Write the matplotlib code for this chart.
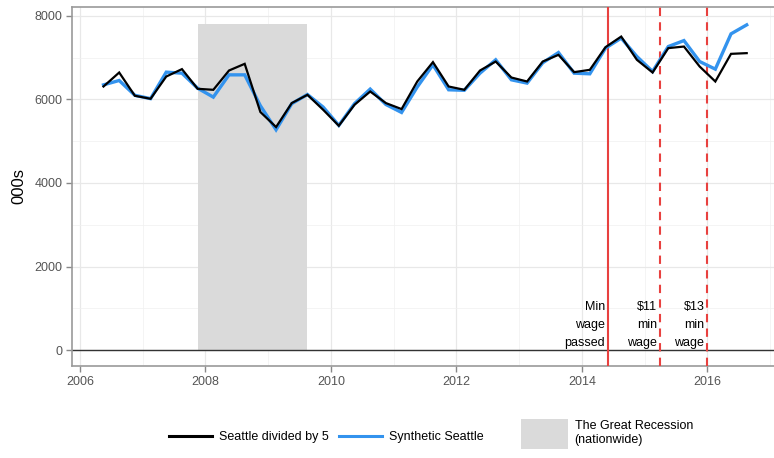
import matplotlib
matplotlib.use("Agg")
import matplotlib.pyplot as plt
from matplotlib.lines import Line2D
from matplotlib.patches import Patch
import numpy as np

plt.rcParams['font.family'] = ['Liberation Sans', 'DejaVu Sans']

# Quarterly observations, 2006 Q2 .. 2016 Q3 (thousands of jobs)
start_year = 2006.375
seattle_div5 = [6311, 6646, 6089, 6017, 6550, 6727, 6256, 6232, 6694, 6854,
                5700, 5340, 5914, 6112, 5754, 5371, 5873, 6191, 5914, 5770,
                6431, 6895, 6311, 6232, 6694, 6909, 6526, 6431, 6909, 7069,
                6655, 6710, 7253, 7507, 6950, 6646, 7230, 7268, 6790, 6431,
                7093, 7110]
synthetic = [6350, 6455, 6100, 6020, 6655, 6630, 6270, 6057, 6590, 6590,
             5850, 5275, 5900, 6120, 5818, 5380, 5900, 6249, 5880, 5689,
             6300, 6830, 6232, 6220, 6630, 6950, 6471, 6392, 6880, 7124,
             6630, 6615, 7230, 7470, 7029, 6670, 7268, 7411, 6909, 6727,
             7572, 7787]
dates = start_year + 0.25 * np.arange(len(seattle_div5))

recession = (2007.875, 2009.625)
recession_top = 7810
policy_dates = [2014.42, 2015.25, 2016.0]
policy_styles = ['-', '--', '--']
policy_labels = ['Min\nwage\npassed', '$11\nmin\nwage', '$13\nmin\nwage']

W, H = 774, 458
fig = plt.figure(figsize=(W / 100, H / 100), dpi=100)
ax = fig.add_axes([72 / W, 1 - 366 / H, (W - 72) / W, (366 - 7) / H])

ax.set_xlim(2005.873, 2017.06)
ax.set_ylim(-383, 8215)

# grid
ax.set_xticks([2006, 2008, 2010, 2012, 2014, 2016])
ax.set_xticks([2007, 2009, 2011, 2013, 2015, 2017], minor=True)
ax.set_yticks([0, 2000, 4000, 6000, 8000])
ax.set_yticks([1000, 3000, 5000, 7000], minor=True)
ax.grid(which='major', color='#E8E8E8', linewidth=0.9, zorder=0)
ax.grid(which='minor', color='#F0F0F0', linewidth=0.5, zorder=0)
ax.set_axisbelow(True)

# recession shading
ax.fill_between(recession, [0, 0], [recession_top, recession_top],
                color='#DADADA', linewidth=0, zorder=1)

# zero line
ax.axhline(0, color='#333333', linewidth=1.0, zorder=2)

# policy dates
red = '#E8413F'
for d, ls in zip(policy_dates, policy_styles):
    ax.axvline(d, color=red, linestyle=ls, linewidth=1.5,
               dashes=(4, 3) if ls == '--' else (None, None), zorder=3)
for d, lab in zip(policy_dates, policy_labels):
    ax.text(d - 0.05, 25, lab, ha='right', va='bottom', fontsize=9,
            linespacing=1.65, color='black', zorder=4, multialignment='right')

# series
ax.plot(dates, synthetic, color='#3393EE', linewidth=2.4, zorder=5,
        solid_joinstyle='miter')
ax.plot(dates, seattle_div5, color='black', linewidth=1.6, zorder=6,
        solid_joinstyle='miter')

ax.set_ylabel('000s', fontsize=12, labelpad=6)

for side in ['left', 'bottom', 'top']:
    ax.spines[side].set_color('#9A9A9A')
    ax.spines[side].set_linewidth(1.2)
ax.spines['right'].set_visible(False)
ax.tick_params(which='major', length=4, width=1.0, color='#888888',
               labelcolor='#555555', labelsize=9, pad=3)
ax.tick_params(which='minor', length=0)

# legends
line_handles = [Line2D([], [], color='black', linewidth=2.2),
                Line2D([], [], color='#3393EE', linewidth=2.2)]
leg1 = fig.legend(line_handles, ['Seattle divided by 5', 'Synthetic Seattle'],
                  loc='center', bbox_to_anchor=(326.5 / W, 1 - 437 / H),
                  ncol=2, frameon=False, fontsize=9, handlelength=3.4,
                  handletextpad=0.6, columnspacing=0.8)
leg2 = fig.legend([Patch(facecolor='#DADADA', edgecolor='none')],
                  ['The Great Recession\n(nationwide)'],
                  loc='center', bbox_to_anchor=(607 / W, 1 - 434 / H),
                  frameon=False, fontsize=9, handlelength=3.8,
                  handleheight=3.4, handletextpad=0.5)

fig.savefig('out.png', dpi=100)
